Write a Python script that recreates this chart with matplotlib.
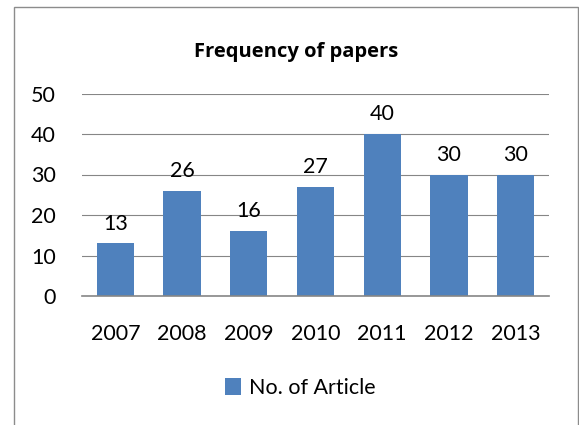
import matplotlib
matplotlib.use('Agg')
import matplotlib.pyplot as plt
from matplotlib.patches import Rectangle

# data
years = ['2007', '2008', '2009', '2010', '2011', '2012', '2013']
articles = [13, 26, 16, 27, 40, 30, 30]
series_name = 'No. of Article'
title = 'Frequency of papers'

W, H = 579, 425
plt.rcParams['font.family'] = ['Lato', 'DejaVu Sans']

fig = plt.figure(figsize=(W / 100, H / 100), dpi=100)

# plot area in pixels -> figure fraction
x0, x1 = 82, 549
ytop, ybot = 93.5, 296
ax = fig.add_axes([x0 / W, 1 - ybot / H, (x1 - x0) / W, (ybot - ytop) / H])

bars = ax.bar(years, articles, width=0.56, color='#4F81BD', label=series_name, zorder=3)
ax.bar_label(bars, padding=7, fontsize=15.5)

ax.set_ylim(0, 50)
ax.set_yticks(range(0, 51, 10))
ax.set_xlim(-0.5, len(years) - 0.5)
ax.yaxis.grid(True, color='#868686', linewidth=0.8, zorder=0)
ax.tick_params(axis='both', length=0, labelsize=15.5)
ax.tick_params(axis='y', pad=19)
ax.tick_params(axis='x', pad=20)
for s in ['left', 'right', 'top']:
    ax.spines[s].set_visible(False)
ax.spines['bottom'].set_color('#868686')
ax.spines['bottom'].set_linewidth(1.2)
ax.spines['bottom'].set_zorder(4)

# title
fig.text(296 / W, 1 - 57 / H, title, ha='center', va='baseline', fontsize=14.5,
         fontweight='bold', family=['Open Sans', 'DejaVu Sans'])

# legend
fig.legend(handles=[bars], loc='center', bbox_to_anchor=(300 / W, 1 - 388 / H),
           frameon=False, fontsize=15.5, handlelength=0.78, handleheight=0.78,
           handletextpad=0.35, borderpad=0)

# chart border
fig.patches.append(Rectangle((13.5 / W, -0.1), (577.5 - 13.5) / W, 1.1 - 7.5 / H,
                             transform=fig.transFigure, fill=False,
                             edgecolor='#8C8C8C', linewidth=1.0))

fig.savefig('out.png', dpi=100)
